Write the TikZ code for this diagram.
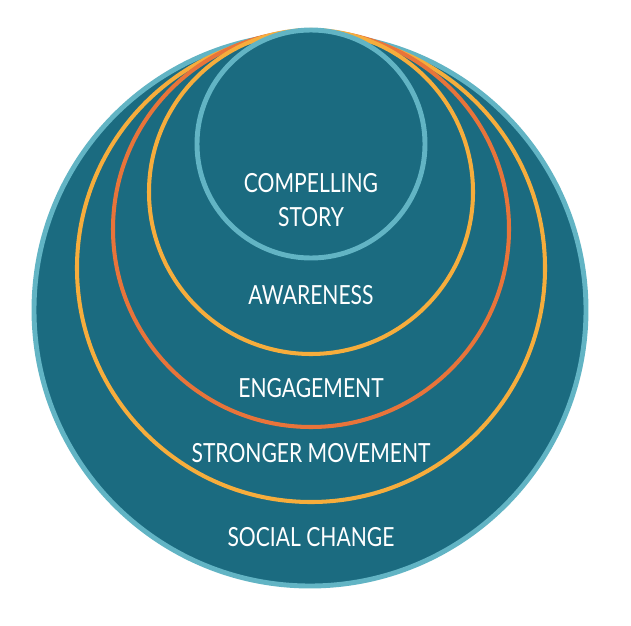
\documentclass[tikz,border=0pt]{standalone}
\usepackage{fontspec}
\setmainfont{Lato}[FakeStretch=0.8]
\usetikzlibrary{positioning}
\definecolor{teal}{HTML}{1B6B80}
\definecolor{rim}{HTML}{62B4C4}
\definecolor{gold}{HTML}{F6AD3C}
\definecolor{rust}{HTML}{E8743A}
\tikzset{
	every node/.style={anchor=base,align=center,outer sep=1.5pt},
	ring/.style={line width=2.3pt},
	label/.style={text=white,font=\fontsize{15}{18.8}\selectfont},
}

\begin{document}
\begin{tikzpicture}[x=0.02cm,y=-0.02cm]
		\useasboundingbox (0,0) rectangle (631,625);
		
		%outer circle.....................
		\draw [fill=teal, draw=rim, line width=2.8pt] (310,310) circle [radius=276];
		
		%stronger movement ring......................
		\draw [ring, gold] (311,268) circle [radius=234];
		
		%engagement ring...................
		\draw [ring, rust] (311,229) circle [radius=198];
		
		%awareness ring....................
		\draw [ring, gold] (311,192) circle [radius=162];
		
		%inner circle...................
		\draw [fill=teal, draw=rim, line width=2.8pt] (311,144) circle [radius=114];
		
		% labels..............................
		\node [label] (story) at (311,226) {COMPELLING\\STORY};
		\node [label] (aware) at (311,304) {AWARENESS};
		\node [label] (engage) at (311,397) {ENGAGEMENT};
		\node [label] (move) at (311,462) {STRONGER MOVEMENT};
		\node [label] (change) at (311,546) {SOCIAL CHANGE};
		
	\end{tikzpicture}
\end{document}
